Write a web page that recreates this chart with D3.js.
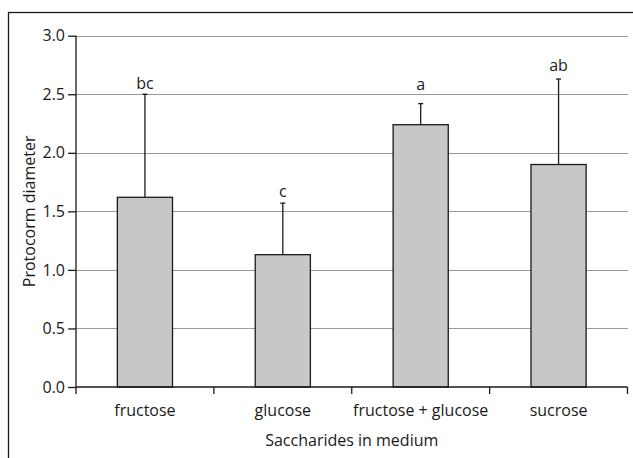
<!DOCTYPE html>
<html>
<head>
<meta charset="utf-8">
<script src="https://cdn.jsdelivr.net/npm/d3@7"></script>
<style>
  body { margin: 0; background: #fff; }
  svg text { font-family: "Open Sans", sans-serif; fill: #1a1a1a; }
</style>
</head>
<body>
<div id="chart"></div>
<script>
// data
var categories = ["fructose", "glucose", "fructose + glucose", "sucrose"];
var means = [1.62, 1.13, 2.24, 1.90];
var errTops = [2.50, 1.57, 2.42, 2.63];
var letters = ["bc", "c", "a", "ab"];
var letterAt = [2.545, 1.62, 2.54, 2.70]; // where the letters sit, in data units
var yTicks = [0, 0.5, 1, 1.5, 2, 2.5, 3];

var W = 633, H = 458;
var fs = "16px";
var svg = d3.select("#chart").append("svg")
    .attr("width", W)
    .attr("height", H);

// outer frame
svg.append("rect")
    .attr("x", 8.5).attr("y", 12.5)
    .attr("width", 700).attr("height", 500)
    .style("fill", "none")
    .style("stroke", "#1a1a1a")
    .style("stroke-width", 1.3);

var plotL = 76, plotR = 627.5, plotT = 35.7, plotB = 387;

var x = d3.scaleBand()
    .domain(categories)
    .range([plotL, plotR])
    .padding(0);

var y = d3.scaleLinear()
    .domain([0, 3])
    .range([plotB, plotT]);

// gridlines
svg.append("g")
    .selectAll("line")
    .data(yTicks.filter(function(d) { return d > 0; }))
    .join("line")
    .attr("x1", plotL).attr("x2", plotR + 0.5)
    .attr("y1", function(d) { return Math.round(y(d)) + 0.5; })
    .attr("y2", function(d) { return Math.round(y(d)) + 0.5; })
    .style("stroke", "#9a9a9a")
    .style("stroke-width", 1.2);

// bars
var barW = x.bandwidth() * 0.4;
svg.append("g")
    .selectAll("rect")
    .data(means)
    .join("rect")
    .attr("x", function(d, i) { return x(categories[i]) + (x.bandwidth() - barW) / 2; })
    .attr("y", function(d) { return y(d); })
    .attr("width", barW)
    .attr("height", function(d) { return plotB - y(d); })
    .style("fill", "#c6c7c9")
    .style("stroke", "#1a1a1a")
    .style("stroke-width", 1.3);

// error bars (upper only)
var eb = svg.append("g").style("stroke", "#1a1a1a").style("stroke-width", 1.3);
errTops.forEach(function(e, i) {
    var cx = x(categories[i]) + x.bandwidth() / 2;
    eb.append("line")
        .attr("x1", cx).attr("x2", cx)
        .attr("y1", y(means[i])).attr("y2", y(e));
    eb.append("line")
        .attr("x1", cx - 2.5).attr("x2", cx + 2.5)
        .attr("y1", y(e)).attr("y2", y(e));
});

// significance letters
svg.append("g")
    .selectAll("text")
    .data(letters)
    .join("text")
    .attr("x", function(d, i) { return x(categories[i]) + x.bandwidth() / 2; })
    .attr("y", function(d, i) { return y(letterAt[i]); })
    .attr("text-anchor", "middle")
    .style("font-size", fs)
    .text(function(d) { return d; });

// y axis
var yAxis = svg.append("g")
    .attr("transform", "translate(" + plotL + ",0)")
    .call(d3.axisLeft(y).tickValues(yTicks).tickFormat(d3.format(".1f")).tickSize(8).tickPadding(3));
yAxis.selectAll("path, line").style("stroke", "#1a1a1a").style("stroke-width", 1.3);
yAxis.select(".domain").attr("d", "M0," + plotT + "V" + plotB);
yAxis.selectAll("text").style("font-size", fs).style("font-family", "'Open Sans', sans-serif").attr("fill", "#1a1a1a");

// x axis with ticks between categories
var xAxisG = svg.append("g")
    .attr("transform", "translate(0," + plotB + ")");
xAxisG.append("line")
    .attr("x1", plotL).attr("x2", plotR)
    .style("stroke", "#1a1a1a").style("stroke-width", 1.3);
var bounds = categories.map(function(c) { return x(c); }).concat([plotR]);
xAxisG.selectAll(".tk")
    .data(bounds)
    .join("line")
    .attr("class", "tk")
    .attr("x1", function(d) { return d; }).attr("x2", function(d) { return d; })
    .attr("y1", 0).attr("y2", 7)
    .style("stroke", "#1a1a1a").style("stroke-width", 1.3);
xAxisG.selectAll(".lbl")
    .data(categories)
    .join("text")
    .attr("class", "lbl")
    .attr("x", function(d) { return x(d) + x.bandwidth() / 2; })
    .attr("y", 29)
    .attr("text-anchor", "middle")
    .style("font-size", fs)
    .text(function(d) { return d; });

// axis titles
svg.append("text")
    .attr("x", (plotL + plotR) / 2)
    .attr("y", 446)
    .attr("text-anchor", "middle")
    .style("font-size", fs)
    .text("Saccharides in medium");

svg.append("text")
    .attr("transform", "translate(35," + (plotT + plotB) / 2 + ") rotate(-90)")
    .attr("text-anchor", "middle")
    .style("font-size", fs)
    .text("Protocorm diameter");
</script>
</body>
</html>
